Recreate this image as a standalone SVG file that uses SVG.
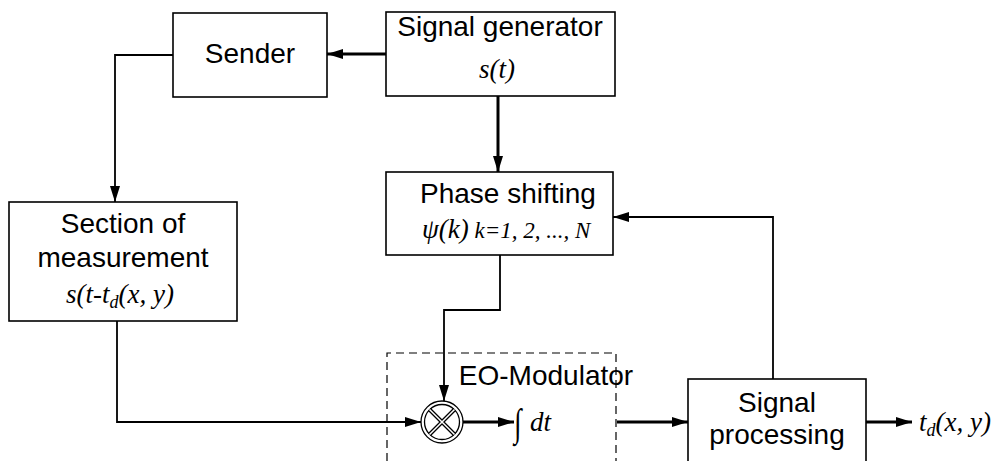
<svg xmlns="http://www.w3.org/2000/svg" width="997" height="461" viewBox="0 0 997 461">
<style>
.box{fill:#fff;stroke:#000;stroke-width:1.6}
.t{font-family:"Liberation Sans",Arial,sans-serif;font-size:28px;fill:#000;text-anchor:middle}
.m{font-family:"Liberation Serif","Times New Roman",serif;font-style:italic;font-size:27px;fill:#000}
.c{fill:none;stroke:#000;stroke-width:1.8}
.ck{fill:none;stroke:#000;stroke-width:3}
</style>
<defs>
<marker id="ah" markerUnits="userSpaceOnUse" markerWidth="18" markerHeight="12" refX="16" refY="6" orient="auto">
<path d="M0,1 L16,6 L0,11 Z" fill="#000"/>
</marker>
</defs>
<rect width="997" height="461" fill="#fff"/>

<g id="sender">
<rect class="box" x="173" y="13" width="154" height="84"/>
<text class="t" x="250" y="63">Sender</text>
</g>

<g id="signal-generator">
<rect class="box" x="386" y="12" width="229" height="84"/>
<text class="t" x="500" y="36">Signal generator</text>
<text class="m" x="497" y="78" text-anchor="middle" font-size="28">s(t)</text>
</g>

<g id="section">
<rect class="box" x="9" y="202" width="228" height="119"/>
<text class="t" x="123" y="233">Section of</text>
<text class="t" x="123" y="267">measurement</text>
<text class="m" x="120" y="303" text-anchor="middle">s(t-t<tspan font-size="18" dy="5">d</tspan><tspan dy="-5">(x, y)</tspan></text>
</g>

<g id="phase-shifting">
<rect class="box" x="386" y="172" width="227" height="83"/>
<text class="t" x="508" y="203">Phase shifting</text>
<text class="m" x="422" y="238"><tspan font-size="27">ψ(k)</tspan><tspan font-size="23"> k=1, 2, ..., N</tspan></text>
</g>

<g id="eo-modulator">
<path d="M387,461 V353 H616 V461" fill="none" stroke="#000" stroke-width="1.2" stroke-dasharray="8,5"/>
<text class="t" x="546" y="385">EO-Modulator</text>
<circle cx="442" cy="422" r="21" fill="#fff" stroke="#000" stroke-width="1.3"/>
<circle cx="442" cy="422" r="17.5" fill="none" stroke="#000" stroke-width="1.3"/>
<path d="M429.5,409.5 L454.5,434.5 M454.5,409.5 L429.5,434.5" stroke="#000" stroke-width="4"/>
<path d="M429.5,409.5 L454.5,434.5 M454.5,409.5 L429.5,434.5" stroke="#fff" stroke-width="1.5"/>
<text class="m" transform="translate(514,436) scale(1,1.45)" x="0" y="0" font-size="34" font-style="normal">∫</text>
<text class="m" x="530" y="431" font-size="29">dt</text>
</g>

<g id="signal-processing">
<rect class="box" x="688" y="379" width="178" height="100"/>
<text class="t" x="777" y="412">Signal</text>
<text class="t" x="777" y="444">processing</text>
</g>

<g id="output">
<text class="m" x="919" y="431">t<tspan font-size="18" dy="5">d</tspan><tspan dy="-5">(x, y)</tspan></text>
</g>

<g id="connectors">
<path class="ck" d="M386,54 H327" marker-end="url(#ah)"/>
<path class="c" d="M173,55 H115 V202" marker-end="url(#ah)"/>
<path class="ck" d="M498,96 V172" marker-end="url(#ah)"/>
<path class="c" d="M500,255 V310 H444 V401" marker-end="url(#ah)"/>
<path class="c" d="M117,321 V422 H421" marker-end="url(#ah)"/>
<path class="ck" d="M463,422 H514" marker-end="url(#ah)"/>
<path class="ck" d="M617,422 H688" marker-end="url(#ah)"/>
<path class="c" d="M773,379 V217 H613" marker-end="url(#ah)"/>
<path class="ck" d="M866,422 H912" marker-end="url(#ah)"/>
</g>
</svg>
